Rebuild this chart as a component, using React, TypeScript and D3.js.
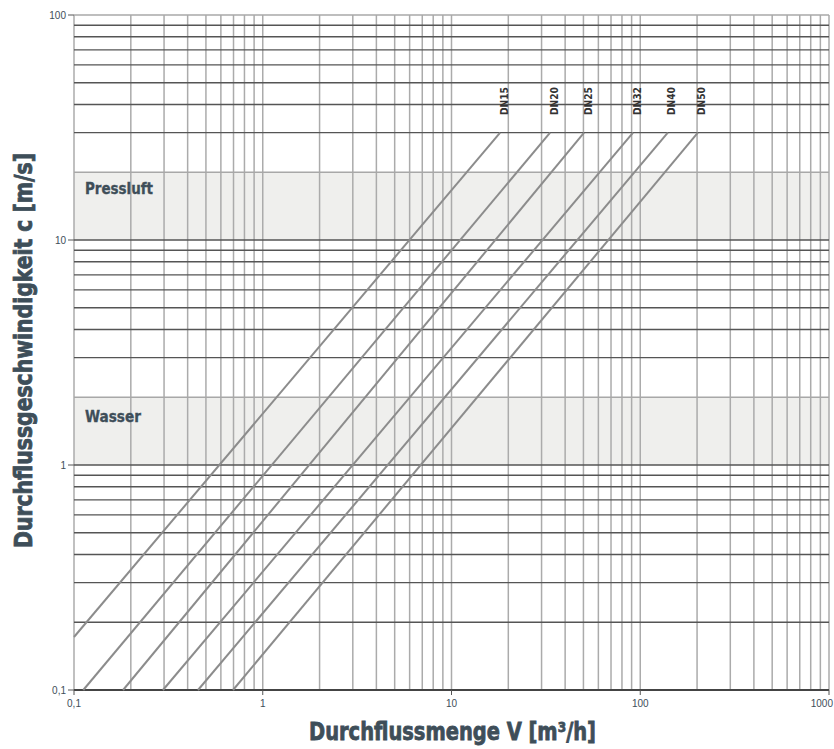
import React from "react";
import * as d3 from "d3";

const W = 834;
const H = 749;

// Diameter series: each line from a start point to an end point [Q m3/h, c m/s]
const seriesNames = ["DN15", "DN20", "DN25", "DN32", "DN40", "DN50"];
const startQ = [0.1, 0.112, 0.182, 0.296, 0.454, 0.696];
const startC = [0.172, 0.1, 0.1, 0.1, 0.1, 0.1];
const endQ = [18.1, 33.3, 50.4, 91.6, 140, 202];
const endC = [30, 30, 30, 30, 30, 30];

const xTickValues = [0.1, 1, 10, 100, 1000];
const xTickLabels = ["0,1", "1", "10", "100", "1000"];
const yTickValues = [0.1, 1, 10, 100];
const yTickLabels = ["0,1", "1", "10", "100"];

const bandNames = ["Pressluft", "Wasser"];
const bandLow = [10, 1];
const bandHigh = [20, 2];

const xTitle = "Durchflussmenge V [m³/h]";
const yTitle = "Durchflussgeschwindigkeit c [m/s]";

const condensed = "'Liberation Sans Narrow', 'DejaVu Sans Condensed', 'Arial Narrow', sans-serif";
const textColor = "#3e4e59";

export default function App() {
  const x = d3.scaleLog().domain([0.1, 1000]).range([74, 829]);
  const y = d3.scaleLog().domain([0.1, 100]).range([690, 15]);

  const minorX: number[] = [];
  for (let e = -1; e < 3; e++) for (let m = 1; m <= 9; m++) minorX.push(m * Math.pow(10, e));
  minorX.push(1000);
  const minorY: number[] = [];
  for (let e = -1; e < 2; e++) for (let m = 1; m <= 9; m++) minorY.push(m * Math.pow(10, e));
  minorY.push(100);

  const line = d3
    .line<[number, number]>()
    .x((d) => x(d[0]))
    .y((d) => y(d[1]));

  const isLightH = (v: number) =>
    Math.abs(v - 100) < 1e-6 || Math.abs(v - 20) < 1e-6 || Math.abs(v - 2) < 1e-6;

  return (
    <svg
      width={W}
      height={H}
      style={{ position: "absolute", left: 0, top: 0, background: "#fff" }}
    >
      {/* bands */}
      {bandNames.map((n, i) => (
        <rect
          key={n}
          x={x(0.1)}
          y={y(bandHigh[i])}
          width={x(1000) - x(0.1)}
          height={y(bandLow[i]) - y(bandHigh[i])}
          fill="#efefed"
        />
      ))}
      {/* vertical grid */}
      {minorX.map((v, i) => (
        <line
          key={"vx" + i}
          x1={x(v)}
          x2={x(v)}
          y1={y(100)}
          y2={y(0.1)}
          stroke="#ababab"
          strokeWidth={1.5}
        />
      ))}
      {/* horizontal grid */}
      {minorY.map((v, i) => (
        <line
          key={"hy" + i}
          x1={x(0.1)}
          x2={x(1000)}
          y1={y(v)}
          y2={y(v)}
          stroke={isLightH(v) ? "#a8a8a8" : "#555"}
          strokeWidth={1.4}
        />
      ))}
      {/* bottom axis line */}
      <line x1={x(0.1)} x2={x(1000)} y1={y(0.1)} y2={y(0.1)} stroke="#444" strokeWidth={2} />
      {/* y ticks */}
      {yTickValues.map((v, i) => (
        <g key={"yt" + i}>
          <line x1={68} x2={74} y1={y(v)} y2={y(v)} stroke="#555" strokeWidth={1} />
          <text
            x={66}
            y={y(v) + 3.5}
            textAnchor="end"
            fontSize={10}
            fontFamily="'Liberation Sans', Arial, sans-serif"
            fill={textColor}
          >
            {yTickLabels[i]}
          </text>
        </g>
      ))}
      {/* x ticks */}
      {xTickValues.map((v, i) => {
        const last = i === xTickValues.length - 1;
        return (
          <g key={"xt" + i}>
            <line x1={x(v)} x2={x(v)} y1={690} y2={695} stroke="#555" strokeWidth={1} />
            <text
              x={last ? 833 : x(v)}
              y={707}
              textAnchor={last ? "end" : "middle"}
              fontSize={10}
              fontFamily="'Liberation Sans', Arial, sans-serif"
              fill={textColor}
            >
              {xTickLabels[i]}
            </text>
          </g>
        );
      })}
      {/* diameter lines */}
      {seriesNames.map((n, i) => (
        <path
          key={n}
          d={
            line([
              [startQ[i], startC[i]],
              [endQ[i], endC[i]],
            ]) || ""
          }
          stroke="#8c8c8c"
          strokeWidth={2}
          fill="none"
        />
      ))}
      {/* DN labels */}
      {seriesNames.map((n, i) => (
        <text
          key={"l" + n}
          transform={`translate(${x(endQ[i]) + 7.5},115) rotate(-90)`}
          fontSize={11}
          fontWeight="bold"
          fontFamily={condensed}
          fill="#333"
          textLength={28}
          lengthAdjust="spacingAndGlyphs"
        >
          {n}
        </text>
      ))}
      {/* band labels */}
      <text
        x={85}
        y={194}
        fontSize={15}
        fontWeight="bold"
        fontFamily={condensed}
        fill={textColor}
        stroke={textColor}
        strokeWidth={0.3}
        textLength={68}
        lengthAdjust="spacingAndGlyphs"
      >
        {bandNames[0]}
      </text>
      <text
        x={85}
        y={422}
        fontSize={15}
        fontWeight="bold"
        fontFamily={condensed}
        fill={textColor}
        stroke={textColor}
        strokeWidth={0.3}
        textLength={56}
        lengthAdjust="spacingAndGlyphs"
      >
        {bandNames[1]}
      </text>
      {/* axis titles */}
      <text
        x={309}
        y={740}
        fontSize={25}
        fontWeight="bold"
        fontFamily={condensed}
        fill={textColor}
        stroke={textColor}
        strokeWidth={0.8}
        textLength={287}
        lengthAdjust="spacingAndGlyphs"
      >
        {xTitle}
      </text>
      <text
        transform="translate(32,548) rotate(-90)"
        fontSize={25}
        fontWeight="bold"
        fontFamily={condensed}
        fill={textColor}
        stroke={textColor}
        strokeWidth={0.8}
        textLength={395}
        lengthAdjust="spacingAndGlyphs"
      >
        {yTitle}
      </text>
    </svg>
  );
}
